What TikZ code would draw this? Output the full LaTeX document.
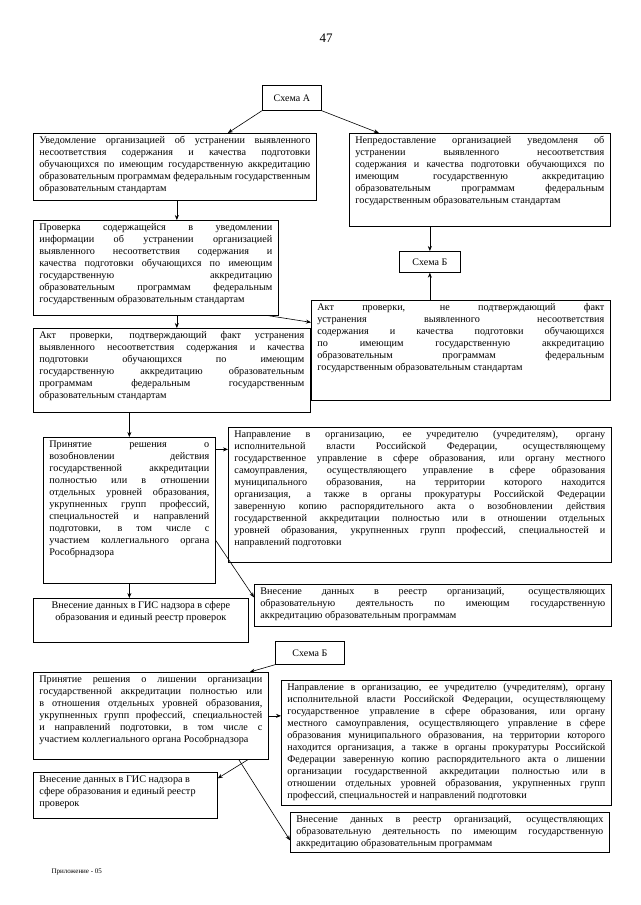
\documentclass[tikz,border=0pt]{standalone}
\usepackage{fontspec}
\setmainfont{Liberation Serif}
\usepackage{xcolor}
\usepackage{tikz}
\usetikzlibrary{arrows.meta, positioning}
\tolerance=10000
\hbadness=10000
\newcommand{\blkfont}{\fontsize{10.2}{12}\selectfont\spaceskip=0.25em plus 1em minus 0.12em\relax}

\begin{document}
\begin{tikzpicture}[x=1pt, y=-1pt,
    blk/.style={draw, line width=0.7pt, inner xsep=6pt, inner ysep=3pt, anchor=north west,
      font=\blkfont},
    schema/.style={draw, line width=0.7pt, inner sep=0pt, anchor=north west,
      font=\fontsize{10}{12}\selectfont},
    arr/.style={-{Stealth[length=5pt, width=4pt]}, line width=0.6pt}]
  \useasboundingbox (0,0) rectangle (640,905);

  \node (pnum) at (326,38) {\fontsize{13}{15}\selectfont 47};

  % Схема А
  \node[schema, minimum width=59pt, minimum height=25pt] (schA) at (262,85) {Схема А};

  \node[blk] (notice) at (33,133)
    {\parbox[t][61pt][t]{271pt}{Уведомление организацией об устранении выявленного\linebreak
      несоответствия содержания и качества подготовки\linebreak
      обучающихся по имеющим государственную аккредитацию\linebreak
      образовательным программам федеральным государственным\linebreak
      образовательным стандартам}};
  \node[blk] (nonotice) at (349,133)
    {\parbox[t][87pt][t]{249pt}{Непредоставление организацией уведомленя об\linebreak
      устранении выявленного несоответствия\linebreak
      содержания и качества подготовки обучающихся по\linebreak
      имеющим государственную аккредитацию\linebreak
      образовательным программам федеральным\linebreak
      государственным образовательным стандартам}};
  \node[schema, minimum width=61pt, minimum height=21pt] (schB) at (399,251) {Схема Б};
  \node[blk] (check) at (33,220)
    {\parbox[t][89pt][t]{233pt}{Проверка содержащейся в уведомлении\linebreak
      информации об устранении организацией\linebreak
      выявленного несоответствия содержания и\linebreak
      качества подготовки обучающихся по имеющим\linebreak
      государственную аккредитацию\linebreak
      образовательным программам федеральным\linebreak
      государственным образовательным стандартам}};
  \node[blk] (actno) at (311,300)
    {\parbox[t][94pt][t]{287pt}{Акт проверки, не подтверждающий факт\linebreak
      устранения выявленного несоответствия\linebreak
      содержания и качества подготовки обучающихся\linebreak
      по имеющим государственную аккредитацию\linebreak
      образовательным программам федеральным\linebreak
      государственным образовательным стандартам}};
  \node[blk] (actyes) at (33,328)
    {\parbox[t][78pt][t]{265pt}{Акт проверки, подтверждающий факт устранения\linebreak
      выявленного несоответствия содержания и качества\linebreak
      подготовки обучающихся по имеющим\linebreak
      государственную аккредитацию образовательным\linebreak
      программам федеральным государственным\linebreak
      образовательным стандартам}};
  \node[blk] (renew) at (43,437)
    {\parbox[t][140pt][t]{160pt}{Принятие решения о\linebreak
      возобновлении действия\linebreak
      государственной аккредитации\linebreak
      полностью или в отношении\linebreak
      отдельных уровней образования,\linebreak
      укрупненных групп профессий,\linebreak
      специальностей и направлений\linebreak
      подготовки, в том числе с\linebreak
      участием коллегиального органа\linebreak
      Рособрнадзора}};
  \node[blk] (sendA) at (228,427)
    {\parbox[t][129pt][t]{371pt}{Направление в организацию, ее учредителю (учредителям), органу\linebreak
      исполнительной власти Российской Федерации, осуществляющему\linebreak
      государственное управление в сфере образования, или органу местного\linebreak
      самоуправления, осуществляющего управление в сфере образования\linebreak
      муниципального образования, на территории которого находится\linebreak
      организация, а также в органы прокуратуры Российской Федерации\linebreak
      заверенную копию распорядительного акта о возобновлении действия\linebreak
      государственной аккредитации полностью или в отношении отдельных\linebreak
      уровней образования, укрупненных групп профессий, специальностей и\linebreak
      направлений подготовки}};
  \node[blk] (gisA) at (33,598)
    {\parbox[t][38pt][t]{203pt}{\centering Внесение данных в ГИС надзора в сфере\\
      образования и единый реестр проверок}};
  \node[blk] (regA) at (254,584)
    {\parbox[t][36pt][t]{345pt}{Внесение данных в реестр организаций, осуществляющих\linebreak
      образовательную деятельность по имеющим государственную\linebreak
      аккредитацию образовательным программам}};

  % Схема Б
  \node[schema, minimum width=69pt, minimum height=23pt] (schB2) at (275,641) {Схема Б};
  \node[blk] (revoke) at (33,672)
    {\parbox[t][81pt][t]{223pt}{Принятие решения о лишении организации\linebreak
      государственной аккредитации полностью или\linebreak
      в отношения отдельных уровней образования,\linebreak
      укрупненных групп профессий, специальностей\linebreak
      и направлений подготовки, в том числе с\linebreak
      участием коллегиального органа Рособрнадзора}};
  \node[blk] (sendB) at (281,680)
    {\parbox[t][119pt][t]{318pt}{Направление в организацию, ее учредителю (учредителям), органу\linebreak
      исполнительной власти Российской Федерации, осуществляющему\linebreak
      государственное управление в сфере образования, или органу\linebreak
      местного самоуправления, осуществляющего управление в сфере\linebreak
      образования муниципального образования, на территории которого\linebreak
      находится организация, а также в органы прокуратуры Российской\linebreak
      Федерации заверенную копию распорядительного акта о лишении\linebreak
      организации государственной аккредитации полностью или в\linebreak
      отношении отдельных уровней образования, укрупненных групп\linebreak
      профессий, специальностей и направлений подготовки}};
  \node[blk] (gisB) at (33,772)
    {\parbox[t][40pt][t]{172pt}{\raggedright Внесение данных в ГИС надзора в\\
      сфере образования и единый реестр\\
      проверок}};
  \node[blk] (regB) at (290,812)
    {\parbox[t][34pt][t]{307pt}{Внесение данных в реестр организаций, осуществляющих\linebreak
      образовательную деятельность по имеющим государственную\linebreak
      аккредитацию образовательным программам}};

  \node[anchor=west] (annex) at (48,872) {\fontsize{7}{8}\selectfont Приложение - 05};

  % connectors
  \draw[arr] (schA.south west) -- ([xshift=53pt]notice.north);
  \draw[arr] (schA.south east) -- ([xshift=-101pt]nonotice.north);
  \draw[arr] ([xshift=2pt]notice.south) -- ([xshift=2pt]notice.south |- check.north);
  \draw[arr] ([xshift=21pt]check.south) -- ([xshift=21pt]check.south |- actyes.north);
  \draw[arr] ([xshift=-10pt]check.south east) -- ([yshift=28pt]actno.west);
  \draw[arr] (nonotice.south -| schB.north) -- (schB.north);
  \draw[arr] (actno.north -| schB.south) -- (schB.south);
  \draw[arr] (actyes.south -| renew.north) -- (renew.north);
  \draw[arr] ([yshift=61pt]renew.east) -- ([yshift=61pt]renew.east -| sendA.west);
  \draw[arr] ([yshift=-30pt]renew.east) -- ([yshift=8pt]regA.west);
  \draw[arr] (renew.south) -- (renew.south |- gisA.north);
  \draw[arr] (schB2.south west) -- ([xshift=99pt]revoke.north);
  \draw[arr] (revoke.east) -- (revoke.east -| sendB.west);
  \draw[arr] ([xshift=97pt]revoke.south) -- ([yshift=17pt]gisB.east);
  \draw[arr] ([xshift=88pt]revoke.south) -- ([yshift=-8pt]regB.west);
\end{tikzpicture}
\end{document}
